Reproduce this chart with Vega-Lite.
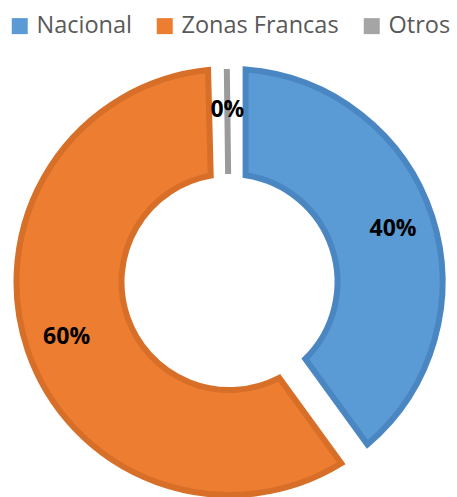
{
  "$schema": "https://vega.github.io/schema/vega-lite/v6.json",
  "width": 457,
  "height": 497,
  "autosize": {"type": "fit", "contains": "padding"},
  "padding": {"top": 8, "left": 2, "right": 0, "bottom": 0},
  "background": "white",
  "config": {"view": {"stroke": null}},
  "data": {
    "values": [
      {"Categoria": "Nacional", "valor": 0.40, "orden": 1},
      {"Categoria": "Zonas Francas", "valor": 0.596, "orden": 2},
      {"Categoria": "Otros", "valor": 0.004, "orden": 3}
    ]
  },
  "encoding": {
    "theta": {"field": "valor", "type": "quantitative", "stack": true},
    "order": {"field": "orden", "type": "quantitative"}
  },
  "layer": [
    {
      "mark": {"type": "arc", "innerRadius": 108, "outerRadius": 213, "padAngle": 0.135, "strokeWidth": 6, "strokeJoin": "miter"},
      "encoding": {
        "color": {
          "field": "Categoria", "type": "nominal",
          "scale": {"domain": ["Nacional", "Zonas Francas", "Otros"], "range": ["#5B9BD5", "#ED7D31", "#A5A5A5"]},
          "legend": {
            "title": null, "orient": "top", "direction": "horizontal",
            "symbolType": "square", "symbolSize": 256, "symbolStrokeWidth": 0,
            "labelFont": "Open Sans", "labelFontSize": 23.5, "labelColor": "#595959", "labelLimit": 400,
            "labelOffset": 5, "columnPadding": 21, "offset": 23, "padding": 6
          }
        },
        "stroke": {
          "field": "Categoria", "type": "nominal",
          "scale": {"domain": ["Nacional", "Zonas Francas", "Otros"], "range": ["#4A87C2", "#D76F28", "#9A9A9A"]},
          "legend": null
        }
      }
    },
    {
      "mark": {"type": "text", "radius": 172, "font": "Open Sans", "fontWeight": "bold", "fontSize": 23, "color": "#000000"},
      "encoding": {
        "text": {"field": "valor", "type": "quantitative", "format": ".0%"}
      }
    }
  ]
}
